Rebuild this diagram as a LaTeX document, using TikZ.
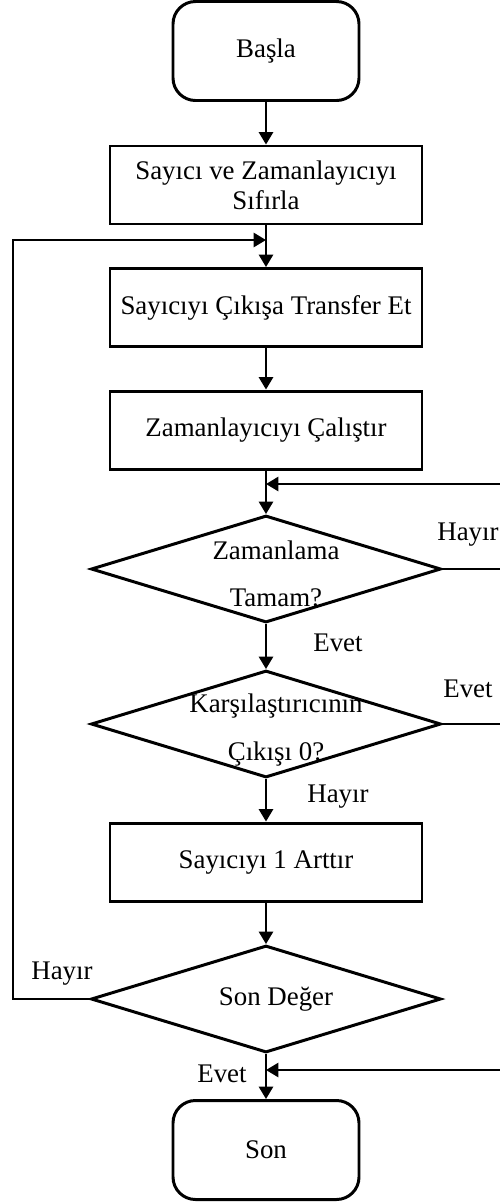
\documentclass[tikz,border=0pt]{standalone}
\usepackage{fontspec}
\setmainfont{Liberation Serif}
\usepackage{tikz}
\usetikzlibrary{arrows.meta,shapes.geometric}

\begin{document}
\begin{tikzpicture}[
	font=\fontsize{15.3}{17}\selectfont,
	term/.style={draw, rectangle, rounded corners=0.45cm, line width=1.7pt, minimum width=3.72cm, minimum height=1.98cm},
	proc/.style={draw, rectangle, line width=1.7pt, minimum width=6.24cm, minimum height=1.56cm, align=center},
	dec/.style={draw, diamond, line width=1.7pt, minimum width=7cm, minimum height=2.14cm, inner sep=0pt},
	line/.style={line width=1.3pt},
	>={Triangle[width=8pt,length=7pt]}]
	\useasboundingbox (0,0) rectangle (10,-24.04);

	\node[term](S) at (5.32,-1.02){Başla};
	\node[proc, below of=S, node distance=2.68cm](R){Sayıcı ve Zamanlayıcıyı\\Sıfırla};
	\node[proc, below of=R, node distance=2.45cm](T){Sayıcıyı Çıkışa Transfer Et};
	\node[proc, below of=T, node distance=2.45cm](Z){Zamanlayıcıyı Çalıştır};

	\node[dec, below of=Z, node distance=2.78cm](D1){};
	\node[above of=D1, node distance=0.38cm, xshift=0.2cm](D1a){Zamanlama};
	\node[below of=D1, node distance=0.58cm, xshift=0.2cm](D1b){Tamam?};

	\node[dec, below of=D1, node distance=3.1cm](D2){};
	\node[above of=D2, node distance=0.36cm, xshift=0.2cm](D2a){Karşılaştırıcının};
	\node[below of=D2, node distance=0.6cm, xshift=0.2cm](D2b){Çıkışı 0?};

	\node[proc, below of=D2, node distance=2.76cm](I){Sayıcıyı 1 Arttır};

	\node[dec, below of=I, node distance=2.74cm](D3){};
	\node[right of=D3, node distance=0.2cm](D3a){Son Değer};

	\node[term, below of=D3, node distance=3.02cm](E){Son};

	% yes / no labels
	\node[right of=D1, node distance=4.04cm, yshift=0.68cm](H1){Hayır};
	\node[below of=D1, node distance=1.48cm, xshift=1.44cm](E1){Evet};
	\node[right of=D2, node distance=4.04cm, yshift=0.7cm](E2){Evet};
	\node[below of=D2, node distance=1.46cm, xshift=1.44cm](H2){Hayır};
	\node[left of=D3, node distance=4.08cm, yshift=0.5cm](H3){Hayır};
	\node[below of=D3, node distance=1.5cm, xshift=-0.88cm](E3){Evet};

	% joining points on the main line
	\coordinate[below of=R, node distance=1.1cm](J1);
	\coordinate[below of=Z, node distance=1.08cm](J2);
	\coordinate[below of=D3, node distance=1.42cm](J3);
	\coordinate(LE) at (0.26,0);
	\coordinate(RE) at (10.3,0);

	\draw[line, ->] (S) -- (R);
	\draw[line, ->] (R) -- (T);
	\draw[line, ->] (T) -- (Z);
	\draw[line, ->] (Z) -- (D1);
	\draw[line, ->] (D1) -- (D2);
	\draw[line, ->] (D2) -- (I);
	\draw[line, ->] (I) -- (D3);
	\draw[line, ->] (D3) -- (E);

	% loops back
	\draw[line, ->] (D3.west) -- (D3.west -| LE) |- (J1);
	\draw[line, ->] (D1.east) -- (D1.east -| RE) |- (J2);
	\draw[line, ->] (D2.east) -- (D2.east -| RE) |- (J3);
\end{tikzpicture}
\end{document}
